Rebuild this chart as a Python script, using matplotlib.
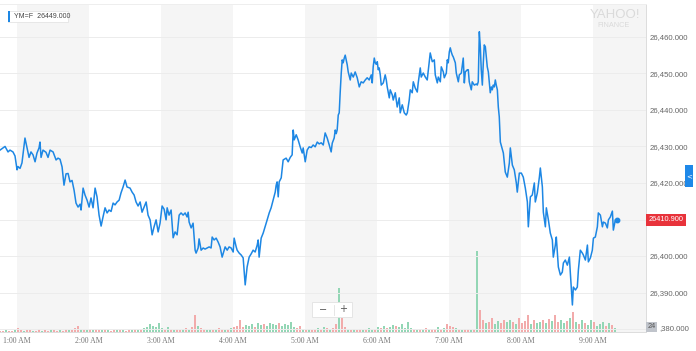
import matplotlib.pyplot as plt
from matplotlib.patches import Rectangle
import numpy as np

# YM=F intraday price, minutes after the 0:46 AM start of the chart
START_MIN = 46
offset_min = [
    0, 2.5, 4.2, 6.7, 8.3, 10.8, 12.5, 14.2, 15, 16.7, 18.3, 20.8, 22.5, 24.2, 25.8, 27.5,
    29.2, 30.8, 32.5, 33.3, 34.2, 35.8, 38.3, 40, 41.7, 44.2, 46.7, 48.3, 50, 51.7, 53.3, 55,
    56.7, 58.3, 60, 61.7, 63.3, 65, 66.7, 67.5, 69.2, 70.8, 72.5, 74.2, 75.8, 77.5, 79.2, 80.8,
    82.5, 84.2, 85.8, 87.5, 89.2, 90.8, 92.5, 94.2, 95.8, 97.5, 99.2, 100.8, 102.5, 104.2,
    105.8, 108.3, 110, 111.7, 113.3, 115, 116.7, 118.3, 120, 121.7, 123.3, 125, 126.7, 128.3,
    130, 131.7, 133.3, 135, 136.7, 138.3, 139.2, 140.8, 142.5, 144.2, 145.8, 147.5, 149.2,
    150.8, 152.5, 154.2, 155.8, 156.7, 157.5, 159.2, 160.8, 162.5, 163.3, 165, 165.8, 167.5,
    169.2, 170.8, 172.5, 174.2, 175.8, 176.7, 178.3, 180, 181.7, 183.3, 185, 186.7, 187.5,
    189.2, 190.8, 192.5, 194.2, 195, 196.7, 197.5, 199.2, 200.8, 202.5, 204.2, 205.8, 207.5,
    209.2, 210.8, 212.5, 214.2, 215, 215.8, 217.5, 219.2, 220.8, 222.5, 224.2, 225.8, 227.5,
    229.2, 230, 230.8, 231.7, 232.5, 234.2, 235.8, 238.3, 240, 241.7, 243.3, 244.2, 245,
    246.7, 248.3, 250, 251.7, 252.5, 254.2, 255.8, 257.5, 259.2, 260.8, 262.5, 264.2, 265.8,
    267.5, 269.2, 270.8, 272.5, 274.2, 275.8, 276.7, 278.3, 279.2, 280, 280.8, 281.7, 282.5,
    283.3, 284.2, 285, 285.8, 286.7, 287.5, 288.3, 289.2, 290, 291.7, 292.5, 294.2, 295.8,
    297.5, 299.2, 300.8, 302.5, 304.2, 305.8, 307.5, 309.2, 310, 310.8, 311.7, 312.5, 313.3,
    314.2, 315, 315.8, 316.7, 317.5, 319.2, 320.8, 321.7, 322.5, 323.3, 324.2, 325, 326.7,
    327.5, 329.2, 330.8, 332.5, 333.3, 335, 336.7, 338.3, 339.2, 340.8, 341.7, 343.3, 344.2,
    345.8, 347.5, 348.3, 350, 350.8, 352.5, 354.2, 355.8, 358.3, 360, 361.7, 362.5, 364.2,
    365, 366.7, 367.5, 369.2, 370, 371.7, 372.5, 373.3, 374.2, 375, 375.8, 376.7, 377.5,
    379.2, 380, 381.7, 382.5, 384.2, 385.8, 386.7, 387.5, 389.2, 390, 390.8, 392.5, 393.3,
    395, 396.7, 397.5, 398.3, 399.2, 400, 400.8, 401.7, 402.5, 403.3, 404.2, 405, 405.8,
    406.7, 407.5, 408.3, 409.2, 410, 410.8, 411.7, 412.5, 413.3, 414.2, 415, 415.8, 416.7,
    419.2, 420.8, 422.5, 424.2, 425, 426.7, 428.3, 430, 430.8, 432.5, 434.2, 435.8, 437.5,
    439.2, 440, 441.7, 443.3, 445, 445.8, 447.5, 449.2, 450, 451.7, 452.5, 454.2, 455, 456.7,
    458.3, 460, 460.8, 462.5, 463.3, 465, 466.7, 468.3, 469.2, 470.8, 472.5, 474.2, 475,
    476.7, 477.5, 479.2, 480.8, 481.7, 483.3, 485, 485.8, 487.5, 489.2, 490, 491.7, 493.3,
    494.2, 495.8, 497.5, 498.3, 500, 501.7, 502.5, 504.2, 505.8, 506.7, 508.3, 510, 510.8,
    512.5, 514.2,
]
price = [
    26429.0, 26429.6, 26430.0, 26428.5, 26429.0, 26428.5, 26427.4, 26423.6, 26424.5, 26424.0,
    26425.5, 26432.3, 26429.6, 26427.0, 26428.5, 26427.7, 26425.8, 26428.2, 26429.6, 26431.2,
    26427.0, 26429.0, 26428.4, 26427.0, 26429.0, 26428.5, 26426.3, 26426.8, 26426.5, 26424.4,
    26419.4, 26422.5, 26422.6, 26420.3, 26420.7, 26418.0, 26414.5, 26413.4, 26414.2, 26412.6,
    26418.6, 26416.7, 26415.3, 26413.4, 26415.9, 26413.2, 26418.6, 26416.2, 26411.2, 26408.2,
    26410.7, 26413.2, 26411.8, 26412.6, 26412.2, 26414.5, 26414.0, 26414.8, 26415.3, 26417.3,
    26418.9, 26420.8, 26418.9, 26418.6, 26417.5, 26416.7, 26414.8, 26413.7, 26414.8, 26412.0,
    26413.4, 26414.8, 26411.2, 26409.9, 26405.8, 26408.0, 26409.9, 26406.6, 26409.0, 26413.7,
    26412.8, 26409.9, 26413.2, 26411.2, 26412.6, 26405.0, 26406.6, 26405.8, 26411.2, 26411.8,
    26411.2, 26411.8, 26410.7, 26412.0, 26409.3, 26407.7, 26409.0, 26401.6, 26400.8, 26402.2,
    26404.7, 26401.6, 26402.2, 26401.9, 26402.2, 26402.5, 26402.2, 26405.2, 26404.4, 26404.9,
    26403.8, 26402.5, 26399.7, 26401.6, 26402.5, 26401.6, 26402.5, 26402.2, 26401.1, 26404.9,
    26402.5, 26401.6, 26400.8, 26400.3, 26399.5, 26392.1, 26397.0, 26399.7, 26400.6, 26401.6,
    26401.1, 26403.0, 26404.4, 26399.7, 26404.9, 26406.3, 26408.0, 26409.9, 26411.8, 26413.2,
    26415.3, 26417.5, 26419.4, 26420.3, 26416.2, 26420.3, 26421.4, 26426.3, 26426.8, 26425.8,
    26427.0, 26427.7, 26434.5, 26431.8, 26433.2, 26431.8, 26429.9, 26428.2, 26429.6, 26425.8,
    26429.0, 26429.9, 26429.7, 26430.4, 26429.9, 26431.2, 26430.7, 26431.0, 26430.4, 26433.7,
    26432.3, 26430.4, 26428.5, 26430.9, 26432.3, 26434.5, 26433.5, 26434.5, 26438.6, 26439.2,
    26444.7, 26450.1, 26453.7, 26452.9, 26454.2, 26455.0, 26453.7, 26452.3, 26450.4, 26448.2,
    26450.1, 26449.0, 26450.4, 26448.8, 26446.3, 26447.7, 26447.4, 26448.2, 26448.8, 26448.2,
    26449.6, 26447.4, 26451.8, 26454.2, 26452.9, 26452.5, 26453.2, 26451.0, 26451.5, 26449.6,
    26446.8, 26447.4, 26449.6, 26448.2, 26446.3, 26444.9, 26443.3, 26445.5, 26444.1, 26442.7,
    26444.7, 26440.8, 26443.3, 26439.2, 26441.4, 26439.2, 26438.6, 26439.2, 26442.7, 26445.5,
    26444.7, 26447.7, 26446.0, 26444.9, 26447.4, 26451.5, 26449.0, 26450.1, 26449.0, 26448.2,
    26455.6, 26453.2, 26453.7, 26449.6, 26447.4, 26449.0, 26447.7, 26451.8, 26450.4, 26448.8,
    26450.1, 26453.7, 26452.9, 26455.9, 26457.0, 26455.9, 26455.0, 26454.5, 26452.9, 26450.1,
    26447.7, 26449.6, 26450.1, 26454.2, 26447.4, 26450.4, 26451.0, 26451.0, 26447.7, 26445.5,
    26447.7, 26446.8, 26447.1, 26446.8, 26447.7, 26461.4, 26457.3, 26451.0, 26446.8, 26452.9,
    26457.8, 26457.3, 26454.5, 26451.8, 26450.4, 26447.7, 26444.7, 26446.3, 26445.5, 26446.8,
    26446.3, 26448.2, 26446.8, 26445.5, 26440.8, 26438.1, 26431.2, 26428.2, 26423.0, 26421.6,
    26425.5, 26429.6, 26424.9, 26423.6, 26420.0, 26417.5, 26422.7, 26422.7, 26421.6, 26418.6,
    26414.8, 26408.0, 26416.2, 26416.7, 26420.0, 26414.8, 26417.3, 26421.6, 26424.1, 26418.9,
    26412.0, 26408.0, 26413.2, 26409.9, 26406.3, 26404.4, 26399.7, 26403.0, 26405.2, 26397.0,
    26394.8, 26395.6, 26398.1, 26398.9, 26397.5, 26399.7, 26395.3, 26386.6, 26391.5, 26390.7,
    26391.5, 26396.2, 26401.6, 26400.8, 26400.3, 26398.9, 26403.0, 26398.4, 26399.5, 26401.6,
    26404.9, 26405.2, 26408.0, 26411.8, 26411.2, 26408.0, 26409.3, 26409.0, 26407.7, 26409.9,
    26410.7, 26412.3, 26407.1, 26409.9, 26409.9,
]

# volume, one bar every 2.5 minutes from the chart start
VOL_STEP = 2.5
volume = [
    1, 1, 2, 1, 1, 2, 4, 2, 1, 2,   2, 1, 1, 3, 1, 2, 1, 3, 2, 1,
    2, 1, 3, 2, 2, 4, 6, 3, 2, 2,   3, 2, 3, 2, 2, 3, 2, 1, 2, 2,
    2, 2, 1, 2, 2, 3, 2, 3, 4, 5,   8, 6, 5, 9, 4, 3, 5, 3, 2, 3,
    2, 3, 4, 2, 5, 17, 6, 4, 3, 2,  3, 2, 3, 4, 3, 2, 3, 4, 5, 6,
    12, 5, 7, 6, 8, 5, 9, 7, 8, 6,  9, 8, 7, 9, 6, 8, 7, 10, 5, 4,
    6, 3, 2, 3, 2, 3, 4, 3, 5, 4,   3, 4, 8, 44, 14, 5, 3, 2, 3, 2,
    3, 2, 3, 4, 2, 3, 5, 4, 6, 4,   5, 7, 6, 5, 8, 4, 10, 4, 3, 2,
    3, 2, 4, 2, 3, 3, 5, 3, 4, 8,   6, 5, 4, 3, 2, 3, 3, 2, 3, 81,
    22, 12, 9, 10, 14, 8, 11, 9, 12, 10,  12, 10, 8, 14, 9, 11, 17, 8, 12, 9,
    10, 12, 9, 13, 11, 17, 10, 12, 9, 11,  14, 20, 10, 8, 12, 9, 7, 12, 10, 6,
    8, 10, 6, 9, 7, 4,
]
vol_side = ("rrgrrgrrgr" "rgrrgrrgrr" "grrgrrrgrg" "rgrrgrgrrg" "rgrrgrgrgg"
            "gggggrgrgr" "rgrgrrgrrg" "grgrrgrgrr" "rrgggrggrg" "gggrgggggr"
            "rgrgrrgrgr" "grrgrrgrgr" "rgrggrgrgr" "ggrgggggrg" "rgrgrrgrgr"
            "rrgrgrrgrg" "rrgrrggrrg" "grgrrrrgrg" "grgrgrrggr" "grgrgrggrg"
            "ggrgrg")

hours = [1, 2, 3, 4, 5, 6, 7, 8, 9]
price_ticks = [26390, 26400, 26420, 26430, 26440, 26450, 26460]
grid_levels = [26380, 26390, 26400, 26410, 26420, 26430, 26440, 26450, 26460]
legend_text = "YM=F  26449.000"
last_label = "26410.900"
vol_badge = "24"
low_label = ",380.000"   # 26,380.000 with its first digits hidden by the volume badge

W, H = 696, 351
LINE = '#1d87e4'
X_MAX = 584
TXT_Z = 8


def fx(px):
    return px / W


def fy(py):
    return 1 - py / H


fig = plt.figure(figsize=(W / 100, H / 100), dpi=100)
pos = [0, fy(332), fx(646), (332 - 4) / H]
axv = fig.add_axes(pos)
ax = fig.add_axes(pos, sharex=axv)
ax.patch.set_visible(False)

# alternating hour bands
for h in hours[::2]:
    axv.axvspan(h * 60, (h + 1) * 60, color='#f5f5f5', lw=0, zorder=0)

t_vol = START_MIN + VOL_STEP * np.arange(len(volume))
colors = ['#93d6b5' if s == 'g' else '#f2abab' for s in vol_side]
axv.bar(t_vol, volume, width=1.6, color=colors, lw=0, zorder=1)
axv.set_ylim(0, 328)
axv.set_xlim(START_MIN, X_MAX)
axv.tick_params(left=False, bottom=False, labelleft=False, labelbottom=False)
for s in axv.spines.values():
    s.set_visible(False)

# price line
for lv in grid_levels:
    ax.axhline(lv, color='#ececec', lw=0.7, zorder=0)
t_price = START_MIN + np.array(offset_min)
ax.plot(t_price, price, color=LINE, lw=1.1, zorder=3)
ax.plot(t_price[-1], price[-1], 'o', ms=3.2, color=LINE, zorder=4)
ax.set_ylim(26379.2, 26469.0)
ax.set_xlim(START_MIN, X_MAX)

ax.yaxis.tick_right()
ax.set_yticks(price_ticks)
ax.set_yticklabels([f"{v:,.3f}" for v in price_ticks], fontsize=5.6,
                   color='#666666', family='Liberation Sans')
ax.set_xticks([h * 60 for h in hours])
ax.set_xticklabels([f"{h}:00 AM" for h in hours], fontsize=5.6,
                   color='#777777', family='Liberation Serif')
ax.tick_params(length=0, pad=2.5)
ax.tick_params(axis='x', pad=3.5)
for name, s in ax.spines.items():
    s.set_visible(name in ('right', 'bottom', 'top'))
    s.set_color('#dcdcdc')
    s.set_linewidth(0.7)
ax.spines['top'].set_color('#eeeeee')

# legend chip
fig.patches.append(Rectangle((fx(8), fy(22)), fx(60), 11 / H, transform=fig.transFigure,
                             fc='white', ec='#e4e4e4', lw=0.6, zorder=5))
fig.patches.append(Rectangle((fx(8), fy(22)), fx(2), 11 / H, transform=fig.transFigure,
                             fc=LINE, lw=0, zorder=6))
fig.text(fx(14), fy(16.5), legend_text, fontsize=5, color='#444444',
         family='Liberation Sans', va='center', ha='left', zorder=TXT_Z)

# watermark
fig.text(fx(615), fy(15), "YAHOO!", fontsize=9.5, color='#dadada',
         family='Liberation Sans', ha='center', va='center', zorder=TXT_Z)
fig.text(fx(614), fy(25.5), "FINANCE", fontsize=5.3, color='#dadada',
         family='Liberation Sans', ha='center', va='center', zorder=TXT_Z)

# last price badge
fig.patches.append(Rectangle((fx(646), fy(226)), fx(40), 12 / H, transform=fig.transFigure,
                             fc='#e8333b', lw=0, zorder=5))
fig.text(fx(666), fy(220), last_label, fontsize=5.3, color='white',
         family='Liberation Sans', ha='center', va='center', zorder=TXT_Z)

# side tab
fig.patches.append(Rectangle((fx(685), fy(187)), fx(8), 22 / H, transform=fig.transFigure,
                             fc='#1e88e8', lw=0, zorder=5))
fig.text(fx(689), fy(176), "<", fontsize=5, color='white', ha='center', va='center',
         zorder=TXT_Z)

# volume badge and the part of the lowest price label it leaves visible
fig.patches.append(Rectangle((fx(646), fy(332)), fx(11), 10 / H, transform=fig.transFigure,
                             fc='#c0c4cb', lw=0, zorder=5))
fig.text(fx(651.5), fy(327), vol_badge, fontsize=5.3, color='#555555',
         family='Liberation Sans', ha='center', va='center', zorder=TXT_Z)
fig.text(fx(659), fy(329), low_label, fontsize=5.6, color='#666666',
         family='Liberation Sans', ha='left', va='center', zorder=TXT_Z)

# zoom control
fig.patches.append(Rectangle((fx(312), fy(317)), fx(40), 15 / H, transform=fig.transFigure,
                             fc='white', ec='#e2e2e2', lw=0.6, zorder=5))
fig.lines.append(plt.Line2D([fx(334), fx(334)], [fy(305), fy(315)], transform=fig.transFigure,
                            color='#e2e2e2', lw=0.6, zorder=6))
fig.text(fx(323), fy(309.5), "\u2212", fontsize=7, color='#555555', ha='center',
         va='center', zorder=TXT_Z)
fig.text(fx(343), fy(309.5), "+", fontsize=7, color='#555555', ha='center',
         va='center', zorder=TXT_Z)

fig.savefig('out.png', dpi=100)
